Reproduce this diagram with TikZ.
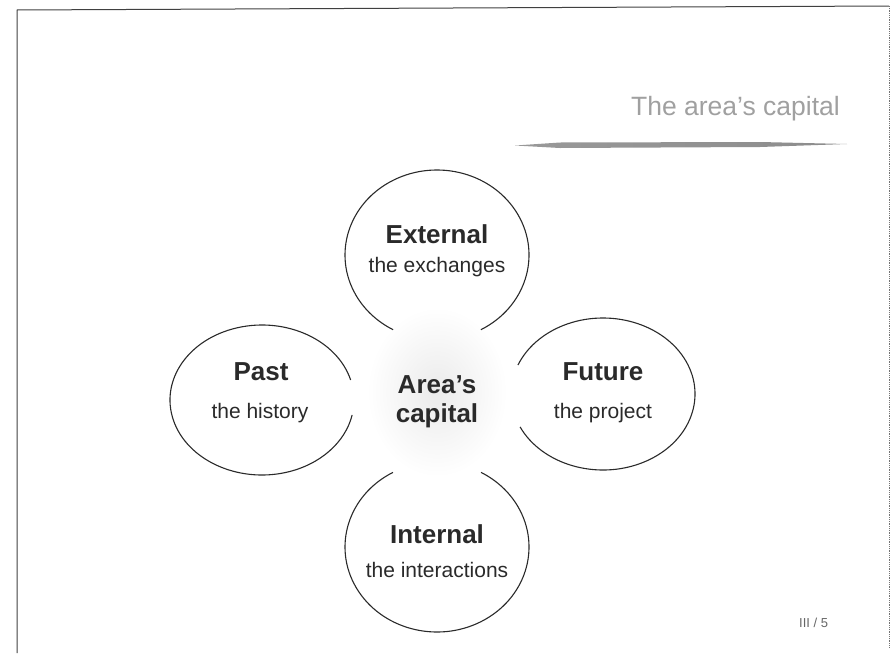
\documentclass[tikz,border=0pt]{standalone}
\usepackage{fontspec}
\setmainfont{Liberation Sans}
\definecolor{ink}{HTML}{2A2A2A}
\definecolor{titlegray}{HTML}{A0A0A0}
\begin{document}
\begin{tikzpicture}[x=1pt,y=-1pt,
  head/.style={font=\fontsize{26}{30}\selectfont\bfseries, text=ink, inner sep=0pt},
  sub/.style={font=\fontsize{21}{25}\selectfont, text=ink, inner sep=0pt},
  ring/.style={draw=ink, line width=1.1pt},
  framestyle/.style={draw=black!75, line width=1pt},
  titlestyle/.style={font=\fontsize{26.5}{30}\selectfont, text=titlegray, inner sep=0pt},
  pagestyle/.style={font=\fontsize{13}{15}\selectfont, text=black!60, inner sep=0pt}]
\useasboundingbox (0,0) rectangle (893,653);
% frame
\coordinate (fbl) at (17,653);
\coordinate (ftl) at (17,10);
\coordinate (ftr) at (889,6);
\coordinate (fbr) at (889,648);
\draw[framestyle] (fbl) -- (ftl) -- (ftr);
\draw[black!55, line width=0.8pt, densely dotted] (ftr) -- (fbr);
% title
\node[titlestyle, anchor=base east] (title) at (840,115) {The area’s capital};
\coordinate (ulA) at (515,145.5);
\coordinate (ulB) at (847,144);
\shade[left color=black!40, middle color=black!85, right color=black!45]
  (ulA) -- (560,142.5) -- (760,142) -- (ulB) -- (760,147) -- (560,148) -- cycle;
% central speckle
\shade[inner color=black!8, outer color=white] (437,392) ellipse [x radius=70pt, y radius=85pt];
% rings
\coordinate (cT) at (437,255);
\coordinate (cB) at (437,547);
\coordinate (cL) at (262,400);
\coordinate (cR) at (603,394);
\draw[ring] (cT) ++(298.5:92pt and 85pt) arc[start angle=298.5, end angle=601.5, x radius=92pt, y radius=85pt];
\draw[ring] (cB) ++(118.6:92pt and 85pt) arc[start angle=118.6, end angle=421.4, x radius=92pt, y radius=85pt];
\draw[ring] (cL) ++(15.5:92pt and 75pt) arc[start angle=15.5, end angle=348.5, x radius=92pt, y radius=75pt];
\draw[ring] (cR) ++(205.7:92pt and 76pt) arc[start angle=205.7, end angle=517.6, x radius=92pt, y radius=76pt];
% texts
\node[head] (ext) at (437,234) {External};
\node[sub] (exts) at (437,267) {the exchanges};
\node[head] (past) at (261,372) {Past};
\node[sub] (pasts) at (260,413) {the history};
\node[head] (fut) at (603,372) {Future};
\node[sub] (futs) at (603,413) {the project};
\node[head] (int) at (437,534) {Internal};
\node[sub] (ints) at (437,570) {the interactions};
\node[head] (area) at (437,385) {Area’s};
\node[head] (cap) at (437,416) {capital};
\node[pagestyle, anchor=base west] (page) at (799,627) {III / 5};
\end{tikzpicture}
\end{document}
